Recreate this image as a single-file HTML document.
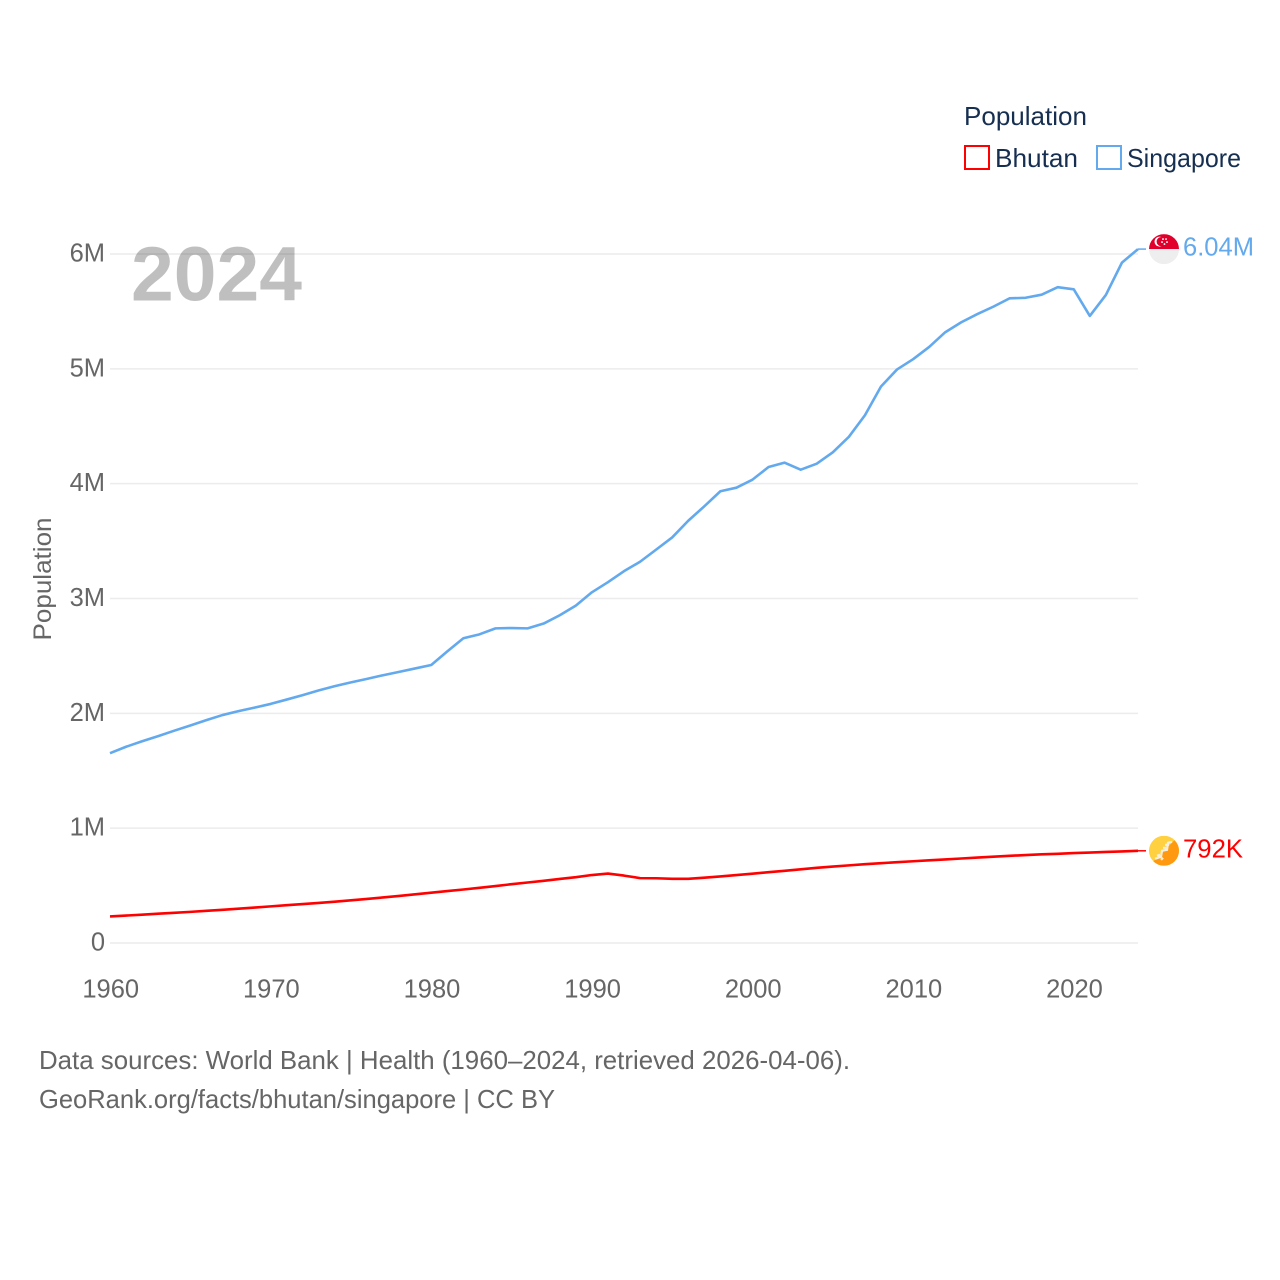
<!DOCTYPE html>
<html lang="en">
<head>
<meta charset="utf-8">
<title>Population: Bhutan and Singapore</title>
<style>
  html, body { margin: 0; padding: 0; background: #fff; }
  svg { display: block; font-family: "Liberation Sans", sans-serif; }
</style>
</head>
<body>
<svg id="chart" width="1280" height="1280" viewBox="0 0 1280 1280" xmlns="http://www.w3.org/2000/svg">
  <text x="964" y="125" font-size="26" fill="#162f51" textLength="123" lengthAdjust="spacingAndGlyphs">Population</text>
  <g>
    <rect x="965" y="146" width="24" height="23" fill="none" stroke="#ff0000" stroke-width="2"/>
    <text x="995" y="167" font-size="26" fill="#162f51" textLength="83" lengthAdjust="spacingAndGlyphs">Bhutan</text>
  </g>
  <g>
    <rect x="1097" y="146" width="24" height="23" fill="none" stroke="#63a9ee" stroke-width="2"/>
    <text x="1127" y="167" font-size="26" fill="#162f51" textLength="114" lengthAdjust="spacingAndGlyphs">Singapore</text>
  </g>

  <g id="grid"></g>
  <g id="yticks"></g>
  <g id="xticks"></g>

  <text x="131" y="300.5" font-size="77" font-weight="700" fill="#000000" fill-opacity="0.25" textLength="171" lengthAdjust="spacingAndGlyphs">2024</text>
  <text transform="translate(51 579) rotate(-90)" text-anchor="middle" font-size="25" fill="#666666" textLength="123" lengthAdjust="spacingAndGlyphs">Population</text>

  <g id="series"></g>

  <g id="flag-singapore">
    <clipPath id="clip-sg"><circle cx="0" cy="0" r="15"/></clipPath>
    <g clip-path="url(#clip-sg)">
      <rect x="-15" y="-15" width="30" height="15" fill="#e0002b"/>
      <rect x="-15" y="0" width="30" height="15" fill="#eeeeee"/>
      <circle cx="-4.5" cy="-7.5" r="5" fill="#fff"/>
      <circle cx="-2.8" cy="-7.5" r="4.6" fill="#e0002b"/>
      <circle cx="-1" cy="-10" r="0.9" fill="#fff"/>
      <circle cx="2" cy="-10" r="0.9" fill="#fff"/>
      <circle cx="3" cy="-7" r="0.9" fill="#fff"/>
      <circle cx="0.5" cy="-5" r="0.9" fill="#fff"/>
      <circle cx="-2" cy="-7" r="0.9" fill="#fff"/>
    </g>
  </g>
  <g id="flag-bhutan">
    <clipPath id="clip-bt"><circle cx="0" cy="0" r="15"/></clipPath>
    <g clip-path="url(#clip-bt)">
      <rect x="-15" y="-15" width="30" height="30" fill="#ffd040"/>
      <path d="M15 -15 L15 15 L-15 15 Z" fill="#ff9a10"/>
      <path d="M-9 8 L-3 6 L-2 0 L3 -1 L4 -8 L8 -9 M-7 5 L-4 4 M-1 -3 L2 -3 M1 -6 L5 -6 M-3 9 L-1 7" fill="none" stroke="#f4f0e0" stroke-width="2.2"/>
    </g>
  </g>

  <text x="39" y="1069" font-size="26" fill="#666666" textLength="811" lengthAdjust="spacingAndGlyphs">Data sources: World Bank | Health (1960–2024, retrieved 2026-04-06).</text>
  <text x="39" y="1108" font-size="26" fill="#666666" textLength="516" lengthAdjust="spacingAndGlyphs">GeoRank.org/facts/bhutan/singapore | CC BY</text>
</svg>

<script>
const years = [1960,1961,1962,1963,1964,1965,1966,1967,1968,1969,1970,1971,1972,1973,1974,1975,1976,1977,1978,1979,1980,1981,1982,1983,1984,1985,1986,1987,1988,1989,1990,1991,1992,1993,1994,1995,1996,1997,1998,1999,2000,2001,2002,2003,2004,2005,2006,2007,2008,2009,2010,2011,2012,2013,2014,2015,2016,2017,2018,2019,2020,2021,2022,2023,2024];
const singaporeValues = [1.646,1.702,1.750,1.795,1.842,1.887,1.934,1.978,2.012,2.043,2.075,2.113,2.152,2.193,2.230,2.263,2.293,2.325,2.354,2.384,2.414,2.533,2.647,2.681,2.733,2.736,2.733,2.775,2.847,2.931,3.047,3.135,3.231,3.313,3.419,3.525,3.670,3.796,3.927,3.958,4.028,4.138,4.176,4.115,4.167,4.266,4.401,4.589,4.839,4.988,5.077,5.184,5.312,5.399,5.470,5.535,5.607,5.612,5.639,5.704,5.686,5.454,5.637,5.918,6.036];
const bhutanValues = [0.224,0.232,0.240,0.248,0.256,0.264,0.273,0.282,0.292,0.302,0.312,0.322,0.332,0.342,0.353,0.365,0.377,0.390,0.403,0.417,0.431,0.445,0.459,0.474,0.489,0.505,0.520,0.535,0.551,0.566,0.585,0.598,0.580,0.558,0.557,0.552,0.552,0.562,0.573,0.585,0.597,0.610,0.622,0.635,0.648,0.659,0.669,0.679,0.688,0.697,0.705,0.713,0.721,0.729,0.737,0.745,0.752,0.759,0.765,0.770,0.776,0.781,0.786,0.790,0.796];
const yTickValues = [0,1,2,3,4,5,6];
const yTickLabels = ['0','1M','2M','3M','4M','5M','6M'];
const xTickValues = [1960,1970,1980,1990,2000,2010,2020];
const endLabelSingapore = '6.04M';
const endLabelBhutan = '792K';

const NS = 'http://www.w3.org/2000/svg';
const plotLeft = 110, plotRight = 1138, plotZero = 943, pxPerMillion = 114.83, lineLift = 0.8;
const x = function (year) { return plotLeft + (year - years[0]) * (plotRight - plotLeft) / (years[years.length - 1] - years[0]); };
const y = function (millions) { return plotZero - millions * pxPerMillion; };

const make = function (tag, attrs, parent, text) {
  const el = document.createElementNS(NS, tag);
  for (const k in attrs) el.setAttribute(k, attrs[k]);
  if (text !== undefined) el.textContent = text;
  parent.appendChild(el);
  return el;
};

const grid = document.getElementById('grid');
const yticks = document.getElementById('yticks');
yTickValues.forEach(function (v, i) {
  const line = make('line', { x1: plotLeft, x2: plotRight, y1: y(v), y2: y(v), stroke: '#ececec', 'stroke-width': 1.5 }, grid);
  
  
  const label = make('text', { x: 105, y: y(v) + 7.5, 'text-anchor': 'end', 'font-size': 25.5, fill: '#666666' }, yticks, yTickLabels[i]);
  
  
});

const xticks = document.getElementById('xticks');
xTickValues.forEach(function (v) {
  const label = make('text', { x: x(v) + 0.7, y: 997.5, 'text-anchor': 'middle', 'font-size': 25.5, fill: '#666666' }, xticks, String(v));
  
  
});

const seriesGroup = document.getElementById('series');
const toPoints = function (values) {
  return values.map(function (v, i) { return x(years[i]).toFixed(2) + ',' + (y(v) - lineLift).toFixed(2); }).join(' ');
};

const bhutanLine = make('polyline', { points: toPoints(bhutanValues), fill: 'none', stroke: '#ff0000', 'stroke-width': 2.6, 'stroke-linejoin': 'round' }, seriesGroup);



const singaporeLine = make('polyline', { points: toPoints(singaporeValues), fill: 'none', stroke: '#63a9ee', 'stroke-width': 2.6, 'stroke-linejoin': 'round' }, seriesGroup);



const sgEnd = y(singaporeValues[singaporeValues.length - 1]) - lineLift;
const btEnd = y(bhutanValues[bhutanValues.length - 1]) - lineLift;

const sgConnector = make('line', { x1: plotRight, x2: plotRight + 8, y1: sgEnd, y2: sgEnd, stroke: '#63a9ee', 'stroke-width': 1.5 }, seriesGroup);



const btConnector = make('line', { x1: plotRight, x2: plotRight + 8, y1: btEnd, y2: btEnd, stroke: '#ff0000', 'stroke-width': 1.5 }, seriesGroup);



document.getElementById('flag-singapore').setAttribute('transform', 'translate(1164 ' + sgEnd + ')');
document.getElementById('flag-bhutan').setAttribute('transform', 'translate(1164 ' + btEnd + ')');

const sgLabel = make('text', { x: 1183, y: sgEnd + 6.5, 'font-size': 26, fill: '#63a9ee', textLength: 71, lengthAdjust: 'spacingAndGlyphs' }, seriesGroup, endLabelSingapore);



const btLabel = make('text', { x: 1183, y: btEnd + 6.5, 'font-size': 26, fill: '#ff0000', textLength: 60, lengthAdjust: 'spacingAndGlyphs' }, seriesGroup, endLabelBhutan);


</script>
</body>
</html>
